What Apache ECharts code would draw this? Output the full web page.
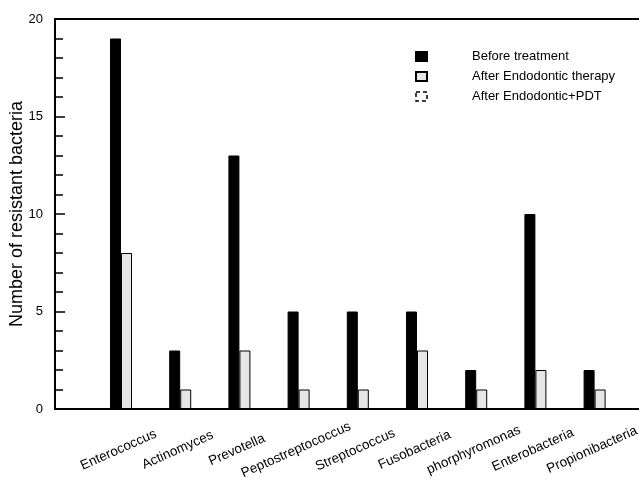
<!DOCTYPE html>
<html>
<head>
<meta charset="utf-8">
<script src="https://cdn.jsdelivr.net/npm/echarts@6/dist/echarts.min.js"></script>
<style>
html,body{margin:0;padding:0;background:#fff;}
#chart{width:639px;height:480px;}
</style>
</head>
<body>
<div id="chart"></div>
<script>
const categories = ['Enterococcus','Actinomyces','Prevotella','Peptostreptococcus','Streptococcus','Fusobacteria','phorphyromonas','Enterobacteria','Propionibacteria'];
const seriesNames = ['Before treatment','After Endodontic therapy','After Endodontic+PDT'];
const beforeTreatment = [19, 3, 13, 5, 5, 5, 2, 10, 2];
const afterEndodontic = [8, 1, 3, 1, 1, 3, 1, 2, 1];
const afterEndoPDT = [0, 0, 0, 0, 0, 0, 0, 0, 0];
const yTicks = [0, 5, 10, 15, 20];

const FONT = "'Liberation Sans', Arial, Helvetica, sans-serif";
const toPairs = arr => arr.map((v, i) => [i, v]);
const labelShift = -0.135;

const chart = echarts.init(document.getElementById('chart'), null, {renderer: 'canvas'});
chart.setOption({
  animation: false,
  backgroundColor: '#fff',
  textStyle: {fontFamily: FONT, color: '#000'},
  grid: {left: 55, top: 19, bottom: 71, right: -10, containLabel: false, outerBoundsMode: 'none',
         show: true, borderColor: '#000', borderWidth: 2, backgroundColor: 'transparent'},
  legend: {
    orient: 'vertical', left: 410, top: 45,
    itemWidth: 11, itemHeight: 9, itemGap: 7,
    icon: 'rect',
    textStyle: {fontFamily: FONT, fontSize: 13, color: '#000', padding: [0, 0, 0, 40]},
    data: [
      seriesNames[0],
      seriesNames[1],
      {name: seriesNames[2], itemStyle: {color: '#fff', borderColor: '#000', borderWidth: 1.5, borderType: [4, 3]}}
    ]
  },
  xAxis: {
    type: 'value',
    min: -1.208, max: 8.826,
    splitLine: {show: false},
    axisTick: {show: false},
    axisLine: {show: true, onZero: false, lineStyle: {color: '#000', width: 2}},
    axisLabel: {
      customValues: categories.map((_, i) => i + labelShift),
      formatter: v => categories[Math.round(v)] || '',
      rotate: 24, align: 'center', verticalAlign: 'middle', margin: 41,
      fontFamily: FONT, fontSize: 13.5, color: '#000'
    }
  },
  yAxis: {
    type: 'value', min: yTicks[0], max: yTicks[yTicks.length - 1], interval: 5,
    name: 'Number of resistant bacteria', nameLocation: 'middle', nameGap: 29, nameMoveOverlap: false,
    nameTextStyle: {fontFamily: FONT, fontSize: 18, color: '#000'},
    axisLine: {show: true, onZero: false, lineStyle: {color: '#000', width: 2}},
    axisTick: {show: true, inside: true, length: 10, lineStyle: {color: '#000', width: 1.5}},
    minorTick: {show: true, splitNumber: 5, length: 8, lineStyle: {color: '#000', width: 1.5}},
    splitLine: {show: false},
    axisLabel: {margin: 12, fontFamily: FONT, fontSize: 13, color: '#000'}
  },
  series: [
    {name: seriesNames[0], type: 'bar', barWidth: 11, barGap: '0%', data: toPairs(beforeTreatment),
     itemStyle: {color: '#000', borderColor: '#000', borderWidth: 1}},
    {name: seriesNames[1], type: 'bar', barWidth: 11, barGap: '0%', data: toPairs(afterEndodontic),
     itemStyle: {color: '#e6e6e6', borderColor: '#000', borderWidth: 1}},
    {name: seriesNames[2], type: 'bar', barWidth: 11, barGap: '0%', data: toPairs(afterEndoPDT),
     itemStyle: {color: '#fff', borderColor: '#000', borderWidth: 1.5, borderType: [4, 3]}}
  ]
});
</script>
</body>
</html>
